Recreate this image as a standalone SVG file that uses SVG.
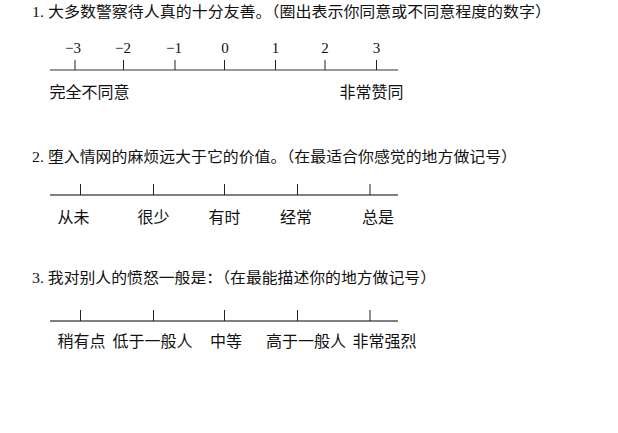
<svg xmlns="http://www.w3.org/2000/svg" width="618" height="433" viewBox="0 0 618 433">
<style>
text{font-family:"Liberation Serif","Noto Sans CJK SC",serif;font-size:15px;fill:#111}
.lbl{font-size:16px}
.num{font-size:15px;text-anchor:middle}
.axis{stroke:#000;stroke-width:1;fill:none}
.axis1{stroke:#777;stroke-width:1.6;fill:none}
.tick{stroke:#222;stroke-width:1}
</style>
<rect width="618" height="433" fill="#fff"/>
<g id="q1">
<text x="32" y="17" textLength="519" lengthAdjust="spacingAndGlyphs">1. 大多数警察待人真的十分友善。（圈出表示你同意或不同意程度的数字）</text>
<g class="num-labels">
<text class="num" x="73" y="53">−3</text>
<text class="num" x="123" y="53">−2</text>
<text class="num" x="174" y="53">−1</text>
<text class="num" x="225" y="53">0</text>
<text class="num" x="275.5" y="53">1</text>
<text class="num" x="325" y="53">2</text>
<text class="num" x="376.5" y="53">3</text>
</g>
<line class="axis1" x1="50" y1="70" x2="398" y2="70"/>
<path class="tick" d="M75 60V70M123.5 60V70M175 60V70M224.5 60V70M275.5 60V70M325 60V70M376.5 60V70"/>
<text class="lbl" x="49.5" y="98">完全不同意</text>
<text class="lbl" x="339.5" y="98">非常赞同</text>
</g>
<g id="q2">
<text x="32" y="162" textLength="485" lengthAdjust="spacingAndGlyphs">2. 堕入情网的麻烦远大于它的价值。（在最适合你感觉的地方做记号）</text>
<line class="axis" x1="50" y1="195" x2="398" y2="195"/>
<path class="tick" d="M80.5 184V195M153.5 184V195M224.5 184V195M297.5 184V195M370 184V195"/>
<text class="lbl" x="57.5" y="223">从未</text>
<text class="lbl" x="137.5" y="223">很少</text>
<text class="lbl" x="208.5" y="223">有时</text>
<text class="lbl" x="280" y="223">经常</text>
<text class="lbl" x="362" y="223">总是</text>
</g>
<g id="q3">
<text x="32" y="283" textLength="404" lengthAdjust="spacingAndGlyphs">3. 我对别人的愤怒一般是：（在最能描述你的地方做记号）</text>
<line class="axis" x1="50" y1="321" x2="398" y2="321"/>
<path class="tick" d="M80.5 310V321M153.5 310V321M224.5 310V321M297.5 310V321M370 310V321"/>
<text class="lbl" x="57.5" y="347">稍有点</text>
<text class="lbl" x="112.5" y="347">低于一般人</text>
<text class="lbl" x="210" y="347">中等</text>
<text class="lbl" x="266" y="347">高于一般人</text>
<text class="lbl" x="352.5" y="347">非常强烈</text>
</g>
</svg>
